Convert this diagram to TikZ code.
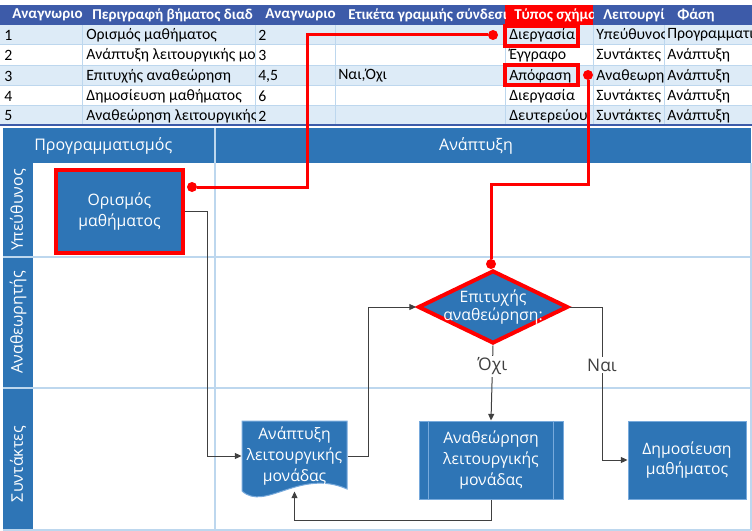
\documentclass[tikz,border=0pt]{standalone}
\usepackage{fontspec}
\setmainfont{Carlito}
\newfontfamily\diagfont{Open Sans}
\usetikzlibrary{positioning,calc,shapes.geometric,arrows.meta}

\definecolor{hdrblue}{RGB}{61,91,169}
\definecolor{laneblue}{RGB}{46,117,182}
\definecolor{rowblue}{RGB}{221,235,247}
\definecolor{gridblue}{RGB}{189,215,238}
\definecolor{edgeblue}{RGB}{120,170,220}
\definecolor{flowgray}{RGB}{64,64,64}
\definecolor{hlred}{RGB}{255,0,0}

\begin{document}
\begin{tikzpicture}[
    x=0.75pt, y=-0.75pt,
    cell/.style={anchor=west, inner sep=0pt, font=\fontsize{11.8}{15}\selectfont},
    hdr/.style={cell, text=white, font=\bfseries\fontsize{11.3}{15}\selectfont},
    hilite/.style={draw=hlred, line width=3pt, minimum width=54.75pt, minimum height=15pt, inner sep=0pt},
    dot/.style={circle, fill=hlred, inner sep=0pt, minimum size=7.5pt},
    link/.style={draw=hlred, line width=2.25pt},
    process/.style={rectangle, fill=laneblue, draw=edgeblue, line width=0.75pt, text=white,
        align=center, inner sep=0pt, font=\diagfont\fontsize{11.8}{15.5}\selectfont},
    decision/.style={diamond, fill=laneblue, draw=hlred, line width=3pt, inner sep=0pt,
        minimum width=112.5pt, minimum height=54.75pt},
    phaselabel/.style={text=white, inner sep=0pt, font=\diagfont\fontsize{12}{14}\selectfont},
    lanelabel/.style={phaselabel, rotate=90},
    flow/.style={draw=flowgray, line width=0.75pt, -{Triangle[length=5pt,width=4.5pt]}},
    answer/.style={fill=white, text=flowgray, inner sep=1.5pt, font=\diagfont\fontsize{13}{15}\selectfont}
]
\useasboundingbox (0,0) rectangle (752,531);
\clip (0,0) rectangle (752,531);

% Table: header and row shading
\fill[hdrblue] (0,5) rectangle (752,25);
\fill[hlred] (505,5) rectangle (593,25);
\fill[rowblue] (0,25) rectangle (752,45);
\fill[rowblue] (0,65.5) rectangle (752,85.5);
\fill[rowblue] (0,106) rectangle (752,124);
\draw[gridblue, line width=0.75pt]
    (0,45) -- (752,45) (0,65.5) -- (752,65.5) (0,85.5) -- (752,85.5) (0,106) -- (752,106)
    (82,25) -- (82,124) (255,25) -- (255,124) (335,25) -- (335,124)
    (505,25) -- (505,124) (593,25) -- (593,124) (664,25) -- (664,124);
\draw[hdrblue, line width=1.5pt] (0,125) -- (752,125);

% Table columns (texts cut at the cell edge)
\begin{scope}
\clip (0,5) rectangle (82,124);
\node[hdr] (h1) at (12,15) {Αναγνωριο};
\node[cell] (r1a) at (4,35) {1};
\node[cell] (r2a) at (4,55.5) {2};
\node[cell] (r3a) at (4,76) {3};
\node[cell] (r4a) at (4,96.5) {4};
\node[cell] (r5a) at (4,116) {5};
\end{scope}

\begin{scope}
\clip (82,5) rectangle (255,124);
\node[hdr] (h2) at (92,15) {Περιγραφή βήματος διαδ};
\node[cell] (r1b) at (86,35) {Ορισμός μαθήματος};
\node[cell] (r2b) at (86,55.5) {Ανάπτυξη λειτουργικής μο};
\node[cell] (r3b) at (86,76) {Επιτυχής αναθεώρηση};
\node[cell] (r4b) at (86,96.5) {Δημοσίευση μαθήματος};
\node[cell] (r5b) at (86,116) {Αναθεώρηση λειτουργικής};
\end{scope}

\begin{scope}
\clip (255,5) rectangle (335,124);
\node[hdr] (h3) at (265,15) {Αναγνωριο};
\node[cell] (r1c) at (258,35) {2};
\node[cell] (r2c) at (258,55.5) {3};
\node[cell] (r3c) at (258,76) {4,5};
\node[cell] (r4c) at (258,96.5) {6};
\node[cell] (r5c) at (258,116) {2};
\end{scope}

\begin{scope}
\clip (335,5) rectangle (505,124);
\node[hdr] (h4) at (348,15) {Ετικέτα γραμμής σύνδεσι};
\node[cell] (r3d) at (338,76) {Ναι,Όχι};
\end{scope}

\begin{scope}
\clip (505,5) rectangle (593,124);
\node[hdr] (h5) at (514,15) {Τύπος σχήμα};
\node[cell] (r1e) at (509,35) {Διεργασία};
\node[cell] (r2e) at (509,55.5) {Έγγραφο};
\node[cell] (r3e) at (509,76) {Απόφαση};
\node[cell] (r4e) at (509,96.5) {Διεργασία};
\node[cell] (r5e) at (509,116) {Δευτερεύου};
\end{scope}

\begin{scope}
\clip (593,5) rectangle (664,124);
\node[hdr] (h6) at (603,15) {Λειτουργί};
\node[cell] (r1f) at (596,35) {Υπεύθυνος};
\node[cell] (r2f) at (596,55.5) {Συντάκτες};
\node[cell] (r3f) at (596,76) {Αναθεωρη};
\node[cell] (r4f) at (596,96.5) {Συντάκτες};
\node[cell] (r5f) at (596,116) {Συντάκτες};
\end{scope}

\begin{scope}
\clip (664,5) rectangle (752,124);
\node[hdr] (h7) at (677,15) {Φάση};
\node[cell] (r1g) at (667,35) {Προγραμματι};
\node[cell] (r2g) at (667,55.5) {Ανάπτυξη};
\node[cell] (r3g) at (667,76) {Ανάπτυξη};
\node[cell] (r4g) at (667,96.5) {Ανάπτυξη};
\node[cell] (r5g) at (667,116) {Ανάπτυξη};
\end{scope}

% Swimlanes
\fill[laneblue] (3,128) rectangle (751,163);
\fill[laneblue] (3,163) rectangle (33,530);
\draw[gridblue, line width=1.5pt]
    (215,128) -- (215,530) (3,257) -- (751,257) (3,388) -- (751,388)
    (3,530) -- (751,530) (751,163) -- (751,530);
\node[phaselabel, anchor=west] (phPlan) at (34,146) {Προγραμματισμός};
\node[phaselabel] (phDev) at (476,146) {Ανάπτυξη};
\node[lanelabel] (lnOwner) at (18,210) {Υπεύθυνος};
\node[lanelabel] (lnReview) at (18,322) {Αναθεωρητής};
\node[lanelabel] (lnWriter) at (18,464) {Συντάκτες};

% Shapes
\node[process, draw=hlred, line width=3pt, minimum width=95.25pt, minimum height=62.25pt] (def) at (119.5,211.5) {Ορισμός\\μαθήματος};
\filldraw[fill=laneblue, draw=edgeblue, line width=0.75pt]
    (242,421) -- (347,421) -- (347,489) .. controls (300,468) and (265,512) .. (242,491) -- cycle;
\node[process, fill=none, draw=none, minimum width=78.75pt, minimum height=52.5pt] (dev) at (294.5,456) {Ανάπτυξη\\λειτουργικής\\μονάδας};
\node[decision] (dec) at (493,307) {};
\node[process, fill=none, draw=none, font=\diagfont\fontsize{11.8}{13.5}\selectfont] (decText) at (dec) {Επιτυχής\\αναθεώρηση:};
\node[process, minimum width=108pt, minimum height=58.5pt] (rev) at (491,460) {Αναθεώρηση\\λειτουργικής\\μονάδας};
\draw[edgeblue, line width=0.75pt] ($(rev.north west)+(10,0)$) -- ($(rev.south west)+(10,0)$);
\draw[edgeblue, line width=0.75pt] ($(rev.north east)+(-10,0)$) -- ($(rev.south east)+(-10,0)$);
\node[process, minimum width=88.5pt, minimum height=58.5pt] (pub) at (687,460) {Δημοσίευση\\μαθήματος};

% Flow connectors
\draw[flow] (def.east) -- ++(22,0) |- (dev.west);
\draw[flow] (dev.east) -- ++(21,0) |- (dec.west);
\draw[flow] (dec.south) -- (rev.north) node[answer, pos=0.28] (no) {Όχι};
\draw[flow] (dec.east) -- ++(32,0) |- (pub.west) node[answer, pos=0.19] (yes) {Ναι};
\draw[flow] (rev.south) -- ++(0,21) -| (dev.south);

% Highlight links between table and diagram
\node[hilite] (mkProc) at (541.5,36) {};
\node[hilite] (mkDec) at (541.5,75.5) {};
\node[dot] (dotA) at (192,187) {};
\node[dot] (dotB) at (493,35) {};
\node[dot] (dotC) at (588,75) {};
\node[dot] (dotD) at (491,264) {};
\coordinate (bendA) at (307,35);
\coordinate (bendB) at (491,184);
\draw[link] (dotA) -| (bendA) -- (dotB);
\draw[link] (dotC) |- (bendB) -- (dotD);

\end{tikzpicture}
\end{document}
